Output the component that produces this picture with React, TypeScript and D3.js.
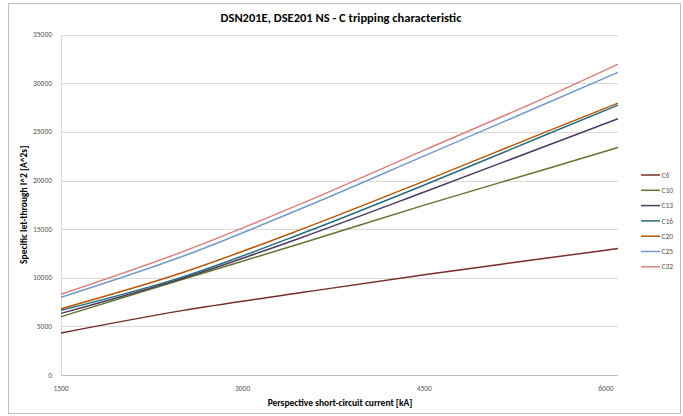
import React from "react";
import * as d3 from "d3";

const currents = [1500, 2500, 3500, 4500, 5500, 6100];
const seriesNames = ["C6", "C10", "C13", "C16", "C20", "C25", "C32"];
const c6 = [4320, 6620, 8500, 10320, 12000, 13015];
const c10 = [6000, 9830, 13600, 17470, 21170, 23400];
const c13 = [6340, 9930, 14200, 18820, 23530, 26350];
const c16 = [6650, 10070, 14600, 19540, 24680, 27760];
const c20 = [6820, 10520, 15050, 19945, 24980, 27960];
const c25 = [7990, 12180, 17200, 22535, 27900, 31130];
const c32 = [8300, 12660, 17700, 23130, 28530, 31955];
const xTicks = [1500, 3000, 4500, 6000];
const yTicks = [0, 5000, 10000, 15000, 20000, 25000, 30000, 35000];
const colors = ["#772C2A", "#5F7530", "#4D3B62", "#276A7C", "#B65708", "#729ACA", "#D9807E"];

const values = [c6, c10, c13, c16, c20, c25, c32];

export default function App() {
  const W = 683;
  const H = 416;
  const margin = { left: 61, right: 618, top: 34.7, bottom: 375 };
  const font = "Carlito, Calibri, 'Liberation Sans Narrow', 'Liberation Sans', sans-serif";

  const x = d3.scaleLinear().domain([1500, 6100]).range([margin.left, margin.right]);
  const y = d3.scaleLinear().domain([0, 35000]).range([margin.bottom, margin.top]);

  const line = d3
    .line<[number, number]>()
    .x((d) => x(d[0]))
    .y((d) => y(d[1]))
    .curve(d3.curveMonotoneX);

  return (
    <svg
      width={W}
      height={H}
      style={{ position: "absolute", left: 0, top: 0, background: "#fff" }}
      fontFamily={font}
    >
      <rect x={8.5} y={3.5} width={672} height={410} fill="#fff" stroke="#BFBFBF" />
      <text x={341} y={22} textAnchor="middle" fontSize={12.5} fontWeight="bold" fill="#000">
        DSN201E, DSE201 NS - C tripping characteristic
      </text>

      {/* gridlines */}
      {yTicks.map((t) => (
        <line
          key={t}
          x1={margin.left}
          x2={margin.right}
          y1={Math.round(y(t)) + 0.5}
          y2={Math.round(y(t)) + 0.5}
          stroke={t === 0 ? "#BFBFBF" : "#D9D9D9"}
          strokeWidth={1}
        />
      ))}
      <line x1={61.5} x2={61.5} y1={y(35000)} y2={y(0)} stroke="#D9D9D9" />

      {/* y tick labels */}
      {yTicks.map((t) => (
        <text key={t} x={52} y={y(t) + 2.5} textAnchor="end" fontSize={7.5} fill="#595959">
          {t}
        </text>
      ))}
      {/* x tick labels */}
      {xTicks.map((t) => (
        <text key={t} x={x(t)} y={391} textAnchor="middle" fontSize={7.5} fill="#595959">
          {t}
        </text>
      ))}

      {/* series */}
      {values.map((vals, i) => (
        <path
          key={seriesNames[i]}
          d={line(currents.map((c, j) => [c, vals[j]] as [number, number])) || ""}
          fill="none"
          stroke={colors[i]}
          strokeWidth={1.5}
        />
      ))}

      {/* axis titles */}
      <text
        transform={`translate(27,${(margin.top + margin.bottom) / 2}) rotate(-90)`}
        textAnchor="middle"
        fontSize={9.5}
        fontWeight="bold"
        fill="#000"
      >
        Specific let-through I^2 [A^2s]
      </text>
      <text x={340} y={406} textAnchor="middle" fontSize={9.5} fontWeight="bold" fill="#000">
        Perspective short-circuit current [kA]
      </text>

      {/* legend */}
      {seriesNames.map((n, i) => (
        <g key={n} transform={`translate(641,${175 + i * 15.3})`}>
          <line x1={0} x2={19} y1={0} y2={0} stroke={colors[i]} strokeWidth={1.5} />
          <text x={20.5} y={2.6} fontSize={7.5} fill="#595959">
            {n}
          </text>
        </g>
      ))}
    </svg>
  );
}
